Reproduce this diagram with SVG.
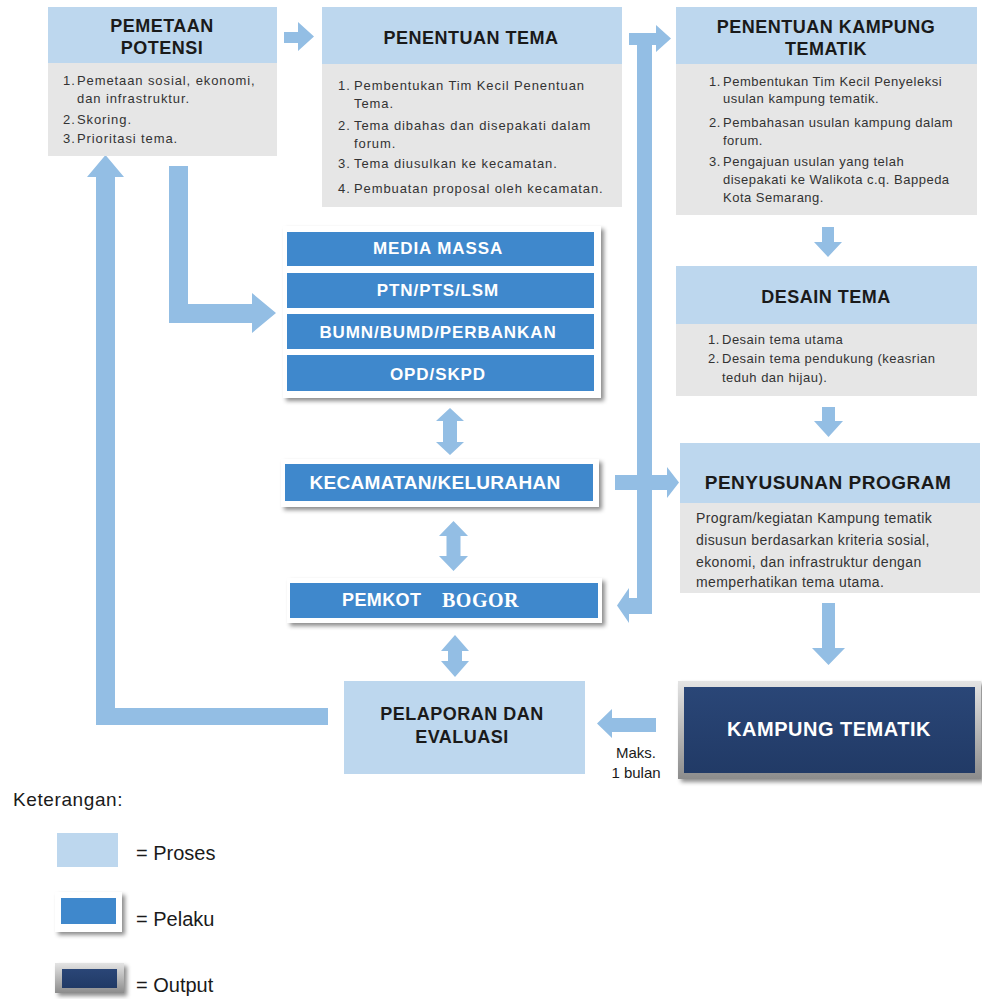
<svg xmlns="http://www.w3.org/2000/svg" width="982" height="999" viewBox="0 0 982 999">
<defs>
<style>
.hd{fill:#bdd7ee}
.bd{fill:#e6e6e6}
.ar{fill:#93bee4}
.h{font-family:"Liberation Sans",Arial,sans-serif;font-weight:bold;font-size:18px;fill:#1a1a1a;text-anchor:middle;letter-spacing:0.5px}
.t{font-family:"Liberation Sans",Arial,sans-serif;font-size:13px;fill:#333}
.pl{fill:#3f88cc}
.pt{font-family:"Liberation Sans",Arial,sans-serif;font-weight:bold;font-size:17px;fill:#fff;text-anchor:middle;letter-spacing:0.9px}
.card{fill:#fff;filter:url(#sh)}
.lg{font-family:"Liberation Sans",Arial,sans-serif;font-size:20px;fill:#1a1a1a}
</style>
<filter id="sh" x="-10%" y="-20%" width="125%" height="150%">
<feDropShadow dx="3" dy="3" stdDeviation="2" flood-color="#000" flood-opacity="0.45"/>
</filter>
<linearGradient id="bev" x1="0" y1="0" x2="0" y2="1">
<stop offset="0" stop-color="#e4e4e4"/>
<stop offset="0.5" stop-color="#b8b8b8"/>
<stop offset="1" stop-color="#8c8c8c"/>
</linearGradient>
<linearGradient id="nav" x1="0" y1="0" x2="0" y2="1">
<stop offset="0" stop-color="#2a4677"/>
<stop offset="1" stop-color="#213a66"/>
</linearGradient>
</defs>
<rect width="982" height="999" fill="#fff"/>

<g id="connectors">
<path class="ar" d="M284,32 H298 V22 L314,36.5 L298,51 V43 H284 Z"/>
<rect class="ar" x="637" y="33" width="15" height="581"/>
<path class="ar" d="M629,33 H656 V25 L671,38.5 L656,52 V45 H629 Z"/>
<path class="ar" d="M615,475 H667 V467 L679,482.5 L667,498 V490 H615 Z"/>
<path class="ar" d="M652,598 V614 H629 V623 L617,605.5 L629,588 V598 Z"/>
<path class="ar" d="M169,166 H188 V304 H252 V293 L276,313 L252,333 V323 H169 Z"/>
<path class="ar" d="M328,708 V725 H96 V177 H87 L105.5,155 L124,177 H115 V708 Z"/>
<path class="ar" d="M822,227 H834 V242 H842 L828,257 L814,242 H822 Z"/>
<path class="ar" d="M822,407 H835 V421 H843 L828.5,437 L814,421 H822 Z"/>
<path class="ar" d="M822,603 H835 V648 H845 L828.5,665 L812,648 H822 Z"/>
<path class="ar" d="M656,718 V732 H612 V738 L597,723.5 L612,709 V718 Z"/>
<path class="ar" d="M450,408 L464,421 H457 V442 H464 L450,455 L436,442 H443 V421 H436 Z"/>
<path class="ar" d="M453.5,521 L468,536 H460.5 V556 H468 L453.5,571 L439,556 H446.5 V536 H439 Z"/>
<path class="ar" d="M455,635 L469,651 H462 V661 H469 L455,677 L441,661 H448 V651 H441 Z"/>
</g>

<g id="pemetaan-potensi">
<rect class="hd" x="48" y="7" width="229" height="56"/>
<rect class="bd" x="48" y="63" width="229" height="93"/>
<text class="h" x="162" y="32">PEMETAAN</text>
<text class="h" x="162" y="54">POTENSI</text>
<g class="t" style="letter-spacing:0.9px">
<text x="63" y="85">1.</text><text x="77" y="85">Pemetaan sosial, ekonomi,</text>
<text x="77" y="103">dan infrastruktur.</text>
<text x="63" y="124">2.</text><text x="77" y="124">Skoring.</text>
<text x="63" y="143">3.</text><text x="77" y="143">Prioritasi tema.</text>
</g>
</g>

<g id="penentuan-tema">
<rect class="hd" x="322" y="7" width="300" height="57"/>
<rect class="bd" x="322" y="64" width="300" height="143"/>
<text class="h" x="471" y="44">PENENTUAN TEMA</text>
<g class="t" style="letter-spacing:0.9px">
<text x="338" y="90">1.</text><text x="354" y="90">Pembentukan Tim Kecil Penentuan</text>
<text x="354" y="108">Tema.</text>
<text x="338" y="130">2.</text><text x="354" y="130">Tema dibahas dan disepakati dalam</text>
<text x="354" y="148">forum.</text>
<text x="338" y="168">3.</text><text x="354" y="168">Tema diusulkan ke kecamatan.</text>
<text x="338" y="193">4.</text><text x="354" y="193">Pembuatan proposal oleh kecamatan.</text>
</g>
</g>

<g id="penentuan-kampung-tematik">
<rect class="hd" x="676" y="7" width="301" height="57"/>
<rect class="bd" x="676" y="64" width="301" height="151"/>
<text class="h" x="826" y="33">PENENTUAN KAMPUNG</text>
<text class="h" x="826" y="55">TEMATIK</text>
<g class="t" style="letter-spacing:0.5px">
<text x="709" y="86">1.</text><text x="723" y="86">Pembentukan Tim Kecil Penyeleksi</text>
<text x="723" y="103">usulan kampung tematik.</text>
<text x="709" y="127">2.</text><text x="723" y="127">Pembahasan usulan kampung dalam</text>
<text x="723" y="145">forum.</text>
<text x="709" y="166">3.</text><text x="723" y="166">Pengajuan usulan yang telah</text>
<text x="723" y="184">disepakati ke Walikota c.q. Bappeda</text>
<text x="723" y="202">Kota Semarang.</text>
</g>
</g>

<g id="desain-tema">
<rect class="hd" x="676" y="266" width="301" height="58"/>
<rect class="bd" x="676" y="324" width="301" height="72"/>
<text class="h" x="826" y="303">DESAIN TEMA</text>
<g class="t" style="letter-spacing:0.5px">
<text x="708" y="344">1.</text><text x="722" y="344">Desain tema utama</text>
<text x="708" y="363">2.</text><text x="722" y="363">Desain tema pendukung (keasrian</text>
<text x="722" y="382">teduh dan hijau).</text>
</g>
</g>

<g id="penyusunan-program">
<rect class="hd" x="680" y="443" width="300" height="60"/>
<rect class="bd" x="680" y="503" width="300" height="90"/>
<text class="h" x="828" y="489" style="font-size:19px">PENYUSUNAN PROGRAM</text>
<g class="t" style="font-size:14px;letter-spacing:0.4px">
<text x="696" y="523">Program/kegiatan Kampung tematik</text>
<text x="696" y="545">disusun berdasarkan kriteria sosial,</text>
<text x="696" y="567">ekonomi, dan infrastruktur dengan</text>
<text x="696" y="587">memperhatikan tema utama.</text>
</g>
</g>

<g id="pelaku-stakeholder">
<rect class="card" x="283" y="226" width="318" height="172"/>
<rect class="pl" x="287" y="232" width="307" height="34"/>
<rect class="pl" x="287" y="273" width="307" height="35"/>
<rect class="pl" x="287" y="314" width="307" height="35"/>
<rect class="pl" x="287" y="355" width="307" height="36"/>
<text class="pt" x="438" y="254">MEDIA MASSA</text>
<text class="pt" x="438" y="296">PTN/PTS/LSM</text>
<text class="pt" x="438" y="338">BUMN/BUMD/PERBANKAN</text>
<text class="pt" x="438" y="380">OPD/SKPD</text>
</g>

<g id="kecamatan-kelurahan">
<rect class="card" x="281" y="459" width="318" height="48"/>
<rect class="pl" x="285" y="464" width="308" height="37"/>
<text class="pt" x="435" y="489" style="font-size:19px;letter-spacing:0.3px">KECAMATAN/KELURAHAN</text>
</g>

<g id="pemkot-bogor">
<rect class="card" x="287" y="578" width="315" height="45"/>
<rect class="pl" x="290" y="583" width="308" height="35"/>
<text class="pt" x="342" y="606" style="text-anchor:start;font-size:18px;letter-spacing:0.4px">PEMKOT</text>
<text x="442" y="607" style="font-family:'Liberation Serif','Times New Roman',serif;font-weight:bold;font-size:20px;fill:#fff;letter-spacing:0.5px">BOGOR</text>
</g>

<g id="pelaporan-evaluasi">
<rect class="hd" x="344" y="681" width="241" height="93"/>
<text class="h" x="462" y="720">PELAPORAN DAN</text>
<text class="h" x="462" y="743">EVALUASI</text>
</g>

<g id="kampung-tematik">
<rect x="678" y="681" width="303" height="98" fill="url(#bev)" filter="url(#sh)"/>
<rect x="684" y="687" width="291" height="86" fill="url(#nav)"/>
<text x="829" y="736" style="font-family:'Liberation Sans',Arial,sans-serif;font-weight:bold;font-size:20px;fill:#fff;text-anchor:middle;letter-spacing:0.5px">KAMPUNG TEMATIK</text>
</g>

<g id="label-maks">
<text x="636" y="758" style="font-family:'Liberation Sans',Arial,sans-serif;font-size:15px;fill:#1a1a1a;text-anchor:middle">Maks.</text>
<text x="636" y="778" style="font-family:'Liberation Sans',Arial,sans-serif;font-size:15px;fill:#1a1a1a;text-anchor:middle">1 bulan</text>
</g>

<g id="legend">
<text class="lg" x="13" y="806" style="font-size:19px;letter-spacing:0.6px">Keterangan:</text>
<rect class="hd" x="57" y="833" width="61" height="34"/>
<text class="lg" x="136" y="860">= Proses</text>
<rect class="card" x="55" y="892" width="67" height="40"/>
<rect class="pl" x="61" y="898" width="55" height="26"/>
<text class="lg" x="136" y="926">= Pelaku</text>
<rect x="55" y="963" width="69" height="30" fill="url(#bev)" filter="url(#sh)"/>
<rect x="62" y="969" width="55" height="19" fill="url(#nav)"/>
<text class="lg" x="136" y="992">= Output</text>
</g>
</svg>
